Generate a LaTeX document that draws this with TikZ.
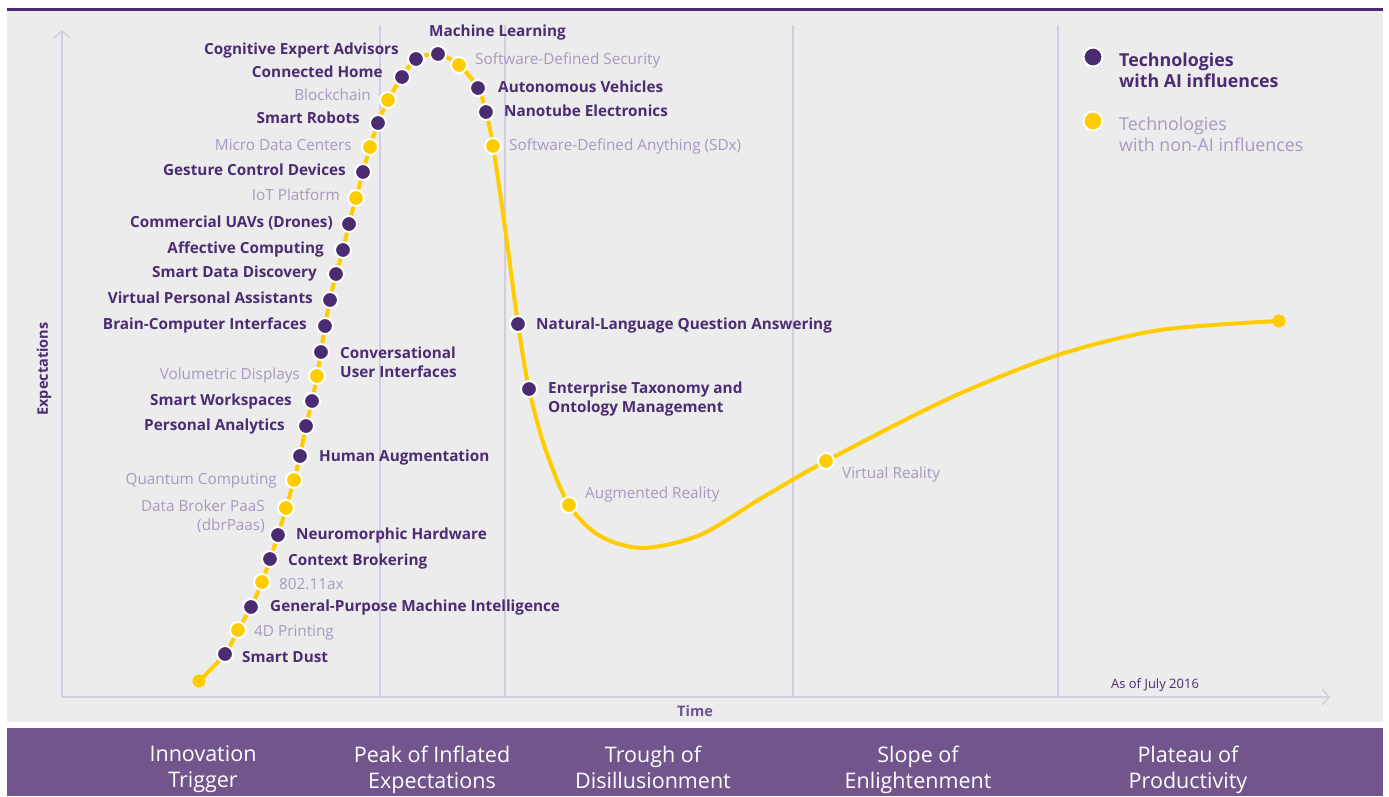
\documentclass[tikz,border=0pt]{standalone}
\usepackage{fontspec}
\setmainfont{Open Sans}
\usepackage{xcolor}
\usetikzlibrary{arrows.meta,positioning}
\definecolor{aipurple}{RGB}{75,44,115}
\definecolor{nonaitext}{RGB}{168,152,192}
\definecolor{hypeyellow}{RGB}{255,204,0}
\definecolor{bandpurple}{RGB}{115,85,142}
\definecolor{panelgray}{RGB}{236,236,236}
\definecolor{axislilac}{RGB}{212,204,226}
\definecolor{timepurple}{RGB}{110,80,150}
\newcommand{\lblfont}{\fontsize{15.3}{19}\selectfont}
\tikzset{
    aidot/.style={circle, fill=aipurple, draw=white, line width=2pt, minimum size=16pt, inner sep=0pt},
    nonaidot/.style={aidot, fill=hypeyellow},
    enddot/.style={circle, fill=hypeyellow, minimum size=13pt, inner sep=0pt},
    ailbl/.style={inner sep=0pt, yshift=-3pt, text=aipurple, font=\lblfont\bfseries},
    nonailbl/.style={inner sep=0pt, yshift=-3pt, text=nonaitext, font=\lblfont},
    phase/.style={text=white, align=center, inner sep=0pt, anchor=north, font=\fontsize{21.5}{26}\selectfont},
    guide/.style={axislilac, line width=1.4pt},
}

\begin{document}
\begin{tikzpicture}[x=1pt, y=-1pt]
    % Page and panels (1 unit = 1 pixel of the 1389x796 reference)
    \fill[white] (0,0) rectangle (1389,796);
    \useasboundingbox (0,0) rectangle (1389,796);
    \fill[panelgray] (7,10) rectangle (1383,722);
    \draw[aipurple, line width=3pt] (7,9) -- (1383,9);
    \fill[bandpurple] (7,728) rectangle (1383,796);

    % Phase separators
    \foreach \x in {380,505,793,1058} {
        \draw[guide] (\x,25) -- (\x,697);
    }

    % Axes
    \draw[guide, -{Straight Barb[length=7pt,width=16pt]}] (62,697) -- (62,30);
    \draw[guide, -{Straight Barb[length=7pt,width=16pt]}] (62,697) -- (1330,697);
    \node[text=aipurple, font=\fontsize{14.5}{16}\selectfont\bfseries, rotate=90] (ylbl) at (44,369) {Expectations};
    \node[text=timepurple, font=\fontsize{14.5}{16}\selectfont\bfseries] (xlbl) at (695,711) {Time};
    \node[text=aipurple, font=\fontsize{13}{15}\selectfont] (asof) at (1155,685) {As of July 2016};

    % Hype curve
    \draw[hypeyellow, line width=4pt, line cap=round] plot[smooth, tension=0.5] coordinates {
        (199,681) (225,654) (238,630) (251,607) (262,582) (270,559) (278,535) (286,508)
        (294,480) (300,456) (306,426) (312,401) (317,376) (321,352) (325,326) (330,300)
        (336,274) (343,250) (349,224) (356,198) (363,172) (370,147) (378,123) (388,100)
        (402,77) (416,59) (438,54) (459,65) (478,88) (486,112) (493,146) (506,235)
        (518,324) (529,389) (545,448) (569,505) (600,536) (643,548) (700,535) (760,499)
        (826,461) (950,398) (1058,355) (1160,330) (1279,321)};
    \node[enddot] (start) at (199,681) {};
    \node[enddot] (plateau) at (1279,321) {};

    % Technologies with AI influences
    \foreach \n/\x/\y in {sdust/225/654, gpmi/251/607, ctxb/270/559, neuro/278/535,
        human/300/456, pana/306/426, swork/312/401, conv/321/352, bci/325/326,
        vpa/330/300, sdd/336/274, affc/343/250, uav/349/224, gest/363/172,
        srob/378/123, chome/402/77, cea/416/59, ml/438/54, auto/478/88,
        nano/486/112, nlqa/518/324, ent/529/389} {
        \node[aidot] (\n) at (\x,\y) {};
    }

    % Technologies with non-AI influences
    \foreach \n/\x/\y in {print/238/630, wifi/262/582, dbr/286/508, quant/294/480,
        volu/317/376, iot/356/198, mdc/370/147, block/388/100, sds/459/65,
        sdx/493/146, ar/569/505, vr/826/461} {
        \node[nonaidot] (\n) at (\x,\y) {};
    }

    % Labels left of the curve
    \node[ailbl, anchor=mid east] (cea-t) at (399,49) {Cognitive Expert Advisors};
    \node[ailbl, anchor=mid east] (chome-t) at (383,72) {Connected Home};
    \node[nonailbl, anchor=mid east] (block-t) at (371,95) {Blockchain};
    \node[ailbl, anchor=mid east] (srob-t) at (360,118) {Smart Robots};
    \node[nonailbl, anchor=mid east] (mdc-t) at (352,145) {Micro Data Centers};
    \node[ailbl, anchor=mid east] (gest-t) at (346,170) {Gesture Control Devices};
    \node[nonailbl, anchor=mid east] (iot-t) at (340,195) {IoT Platform};
    \node[ailbl, anchor=mid east] (uav-t) at (333,222) {Commercial UAVs (Drones)};
    \node[ailbl, anchor=mid east] (affc-t) at (324,248) {Affective Computing};
    \node[ailbl, anchor=mid east] (sdd-t) at (317,272) {Smart Data Discovery};
    \node[ailbl, anchor=mid east] (vpa-t) at (313,298) {Virtual Personal Assistants};
    \node[ailbl, anchor=mid east] (bci-t) at (307,324) {Brain-Computer Interfaces};
    \node[nonailbl, anchor=mid east] (volu-t) at (300,374) {Volumetric Displays};
    \node[ailbl, anchor=mid east] (swork-t) at (292,400) {Smart Workspaces};
    \node[ailbl, anchor=mid east] (pana-t) at (285,425) {Personal Analytics};
    \node[nonailbl, anchor=mid east] (quant-t) at (277,479) {Quantum Computing};
    \node[nonailbl, anchor=north east, align=right] (dbr-t) at (265,497) {Data Broker PaaS\\(dbrPaas)};

    % Labels right of the curve
    \node[ailbl, anchor=mid west] (ml-t) at (429,31) {Machine Learning};
    \node[nonailbl, anchor=mid west] (sds-t) at (475,59) {Software-Defined Security};
    \node[ailbl, anchor=mid west] (auto-t) at (498,87) {Autonomous Vehicles};
    \node[ailbl, anchor=mid west] (nano-t) at (504,111) {Nanotube Electronics};
    \node[nonailbl, anchor=mid west] (sdx-t) at (509,145) {Software-Defined Anything (SDx)};
    \node[ailbl, anchor=mid west] (nlqa-t) at (536,324) {Natural-Language Question Answering};
    \node[ailbl, anchor=north west, align=left] (ent-t) at (548,379) {Enterprise Taxonomy and\\Ontology Management};
    \node[nonailbl, anchor=mid west] (ar-t) at (585,493) {Augmented Reality};
    \node[nonailbl, anchor=mid west] (vr-t) at (842,473) {Virtual Reality};
    \node[ailbl, anchor=north west, align=left] (conv-t) at (340,344) {Conversational\\User Interfaces};
    \node[ailbl, anchor=mid west] (human-t) at (319,456) {Human Augmentation};
    \node[ailbl, anchor=mid west] (neuro-t) at (296,534) {Neuromorphic Hardware};
    \node[ailbl, anchor=mid west] (ctxb-t) at (288,560) {Context Brokering};
    \node[nonailbl, anchor=mid west] (wifi-t) at (279,584) {802.11ax};
    \node[ailbl, anchor=mid west] (gpmi-t) at (270,606) {General-Purpose Machine Intelligence};
    \node[nonailbl, anchor=mid west] (print-t) at (254,631) {4D Printing};
    \node[ailbl, anchor=mid west] (sdust-t) at (242,657) {Smart Dust};

    % Legend
    \node[aidot, minimum size=19pt] (keyai) at (1093,57) {};
    \node[nonaidot, minimum size=19pt] (keynonai) at (1093,121) {};
    \node[ailbl, font=\fontsize{17.8}{21}\selectfont\bfseries, anchor=north west, align=left] (keyai-t) at (1119,50) {Technologies\\with AI influences};
    \node[nonailbl, font=\fontsize{17.8}{21}\selectfont, anchor=north west, align=left] (keynonai-t) at (1119,114) {Technologies\\with non-AI influences};

    % Phases of the cycle
    \foreach \n/\x/\txt in {trig/203/Innovation\\Trigger, peak/432/Peak of Inflated\\Expectations,
        trough/653/Trough of\\Disillusionment, slope/918/Slope of\\Enlightenment,
        plat/1188/Plateau of\\Productivity} {
        \node[phase] (\n) at (\x,746) {\txt};
    }
\end{tikzpicture}
\end{document}
